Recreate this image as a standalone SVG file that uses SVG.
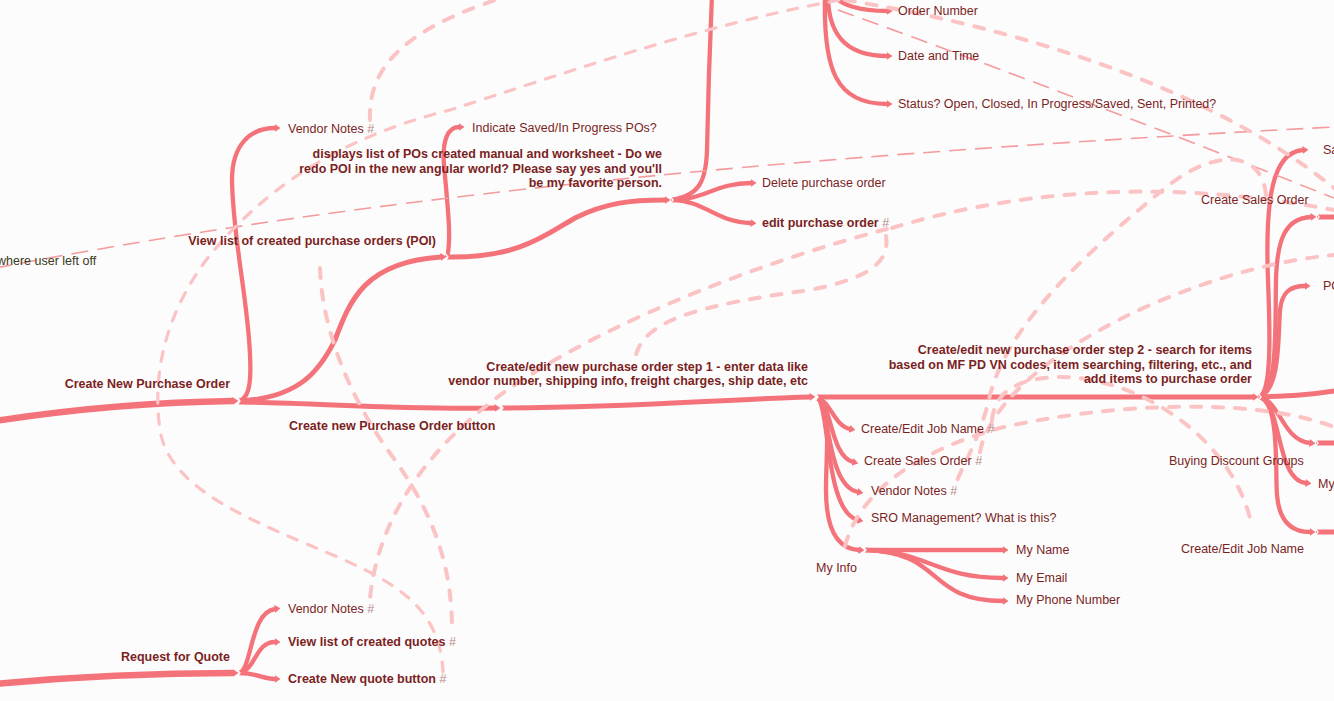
<svg xmlns="http://www.w3.org/2000/svg" width="1334" height="701" viewBox="0 0 1334 701">
<defs>
<style>
.br{fill:none;stroke:#f4737a;stroke-linecap:butt}
.w6{stroke-width:6.5}.w5{stroke-width:5}.w4{stroke-width:4.3}
.t{font-family:"Liberation Sans",Arial,sans-serif;font-size:12.5px;fill:#7b1f1f}
.b{font-weight:bold}
.h{fill:#b58b8b;font-weight:normal}
.dp{fill:none;stroke:#fbc3c4;stroke-width:4;stroke-dasharray:10 12;stroke-linecap:round}
.dm{fill:none;stroke:#fbc3c4;stroke-width:3.2;stroke-dasharray:10 11;stroke-linecap:round}
.dt{fill:none;stroke:#f59a9d;stroke-width:1.6;stroke-dasharray:17 9}
.nt{fill:none;stroke:#fcfcfc;stroke-width:1.3}
</style>
<marker id="ar" viewBox="0 0 6 8" refX="0.5" refY="4" markerWidth="6" markerHeight="8" markerUnits="userSpaceOnUse" orient="auto"><path d="M0,0 L6,4 L0,8 z" fill="#f4737a"/></marker>
</defs>
<rect width="1334" height="701" fill="#fcfcfc"/>
<g id="connectors">
<!-- solid branches -->
<path class="br w6" d="M-5,421 C 80,408 160,402 233,401" marker-end="url(#ar)"/>
<path class="br w4" d="M239,401 C 251,398 251,375 250,355 C 248,300 233,240 232,180 C 232,145 250,128 275,128" marker-end="url(#ar)"/>
<path class="br w5" d="M239,401 C 300,398 320,370 335,340 C 350,300 365,262 441,257" marker-end="url(#ar)"/>
<path class="br w5" d="M239,402 C 320,403 400,410 495,408" marker-end="url(#ar)"/>
<path class="br w5" d="M502,408 C 650,407 700,400 810,397" marker-end="url(#ar)"/>
<path class="br w5" d="M817,397 L1253,397" marker-end="url(#ar)"/>
<path class="br w4" d="M447,257 C 452,240 447,200 444,165 C 442,140 448,127 459,127" marker-end="url(#ar)"/>
<path class="br w5" d="M447,257 C 520,258 545,235 575,218 C 605,203 630,200 665,200" marker-end="url(#ar)"/>
<path class="br w4" d="M671,200 C 700,196 706,180 707,150 C 708,100 710,40 712,-5"/>
<path class="br w4" d="M671,200 C 705,200 715,183 751,183" marker-end="url(#ar)"/>
<path class="br w4" d="M671,200 C 705,200 715,222 751,223" marker-end="url(#ar)"/>
<path class="br w4" d="M834,-5 C 840,5 860,11 887,11" marker-end="url(#ar)"/>
<path class="br w4" d="M828,-5 C 828,30 842,56 887,56" marker-end="url(#ar)"/>
<path class="br w4" d="M825,-5 C 823,70 836,104 887,104" marker-end="url(#ar)"/>
<path class="br w4" d="M817,398 C 830,400 834,426 850,429" marker-end="url(#ar)"/>
<path class="br w4" d="M817,398 C 832,402 830,456 853,462" marker-end="url(#ar)"/>
<path class="br w4" d="M817,398 C 830,402 826,486 858,492" marker-end="url(#ar)"/>
<path class="br w4" d="M817,398 C 830,402 824,512 858,520" marker-end="url(#ar)"/>
<path class="br w4" d="M817,398 C 832,402 826,450 826,490 C 826,530 838,549 859,550" marker-end="url(#ar)"/>
<path class="br w4" d="M865,550 L1003,550" marker-end="url(#ar)"/>
<path class="br w4" d="M865,550 C 930,552 935,578 1003,578" marker-end="url(#ar)"/>
<path class="br w4" d="M865,550 C 945,552 925,601 1003,601" marker-end="url(#ar)"/>
<path class="br w4" d="M1259,397 C 1272,392 1270,330 1268,280 C 1265,200 1272,152 1303,150" marker-end="url(#ar)"/>
<path class="br w4" d="M1259,397 C 1278,390 1275,330 1276,280 C 1277,240 1285,218 1311,217" marker-end="url(#ar)"/>
<path class="br w5" d="M1317,217 L1340,217"/>
<path class="br w4" d="M1259,397 C 1280,390 1278,340 1280,310 C 1282,292 1290,286 1305,286" marker-end="url(#ar)"/>
<path class="br w5" d="M1259,397 C 1290,396 1310,395 1340,390"/>
<path class="br w4" d="M1259,397 C 1280,400 1282,440 1310,443" marker-end="url(#ar)"/>
<path class="br w5" d="M1316,443 L1340,443"/>
<path class="br w4" d="M1259,397 C 1282,400 1275,480 1306,483" marker-end="url(#ar)"/>
<path class="br w4" d="M1259,397 C 1280,402 1275,470 1277,495 C 1279,520 1290,532 1310,532" marker-end="url(#ar)"/>
<path class="br w5" d="M1316,532 L1340,532"/>
<path class="br w6" d="M-5,684 C 80,676 160,673 233,673" marker-end="url(#ar)"/>
<path class="br w4" d="M239,673 C 252,670 250,612 275,609" marker-end="url(#ar)"/>
<path class="br w4" d="M239,673 C 256,670 255,642 275,642" marker-end="url(#ar)"/>
<path class="br w4" d="M239,673 C 258,673 262,679 275,679" marker-end="url(#ar)"/>
<!-- node notches -->
<g class="nt">
<polyline points="237,397 240,401 237,405"/>
<polyline points="500,404 503,408 500,412"/>
<polyline points="815,393 818,397 815,401"/>
<polyline points="1258,393 1261,397 1258,401"/>
<polyline points="445,253 448,257 445,261"/>
<polyline points="670,196 673,200 670,204"/>
<polyline points="863,546 866,550 863,554"/>
<polyline points="237,669 240,673 237,677"/>
<polyline points="1316,213 1319,217 1316,221"/>
<polyline points="1315,439 1318,443 1315,447"/>
<polyline points="1315,528 1318,532 1315,536"/>
</g>
<!-- cross connections -->
<path class="dt" d="M-5,268 C 250,220 600,165 1334,127"/>
<path class="dt" d="M838,10 C 950,50 1150,125 1334,198"/>
<path class="dp" d="M370,120 C 368,70 400,30 505,-3"/>
<path class="dm" d="M443,672 C 440,610 400,585 340,558 C 250,520 170,490 160,430 C 150,360 175,300 210,255 C 260,195 330,140 450,110 C 560,75 700,25 840,0"/>
<path class="dp" d="M845,0 C 1000,25 1200,80 1334,188"/>
<path class="dp" d="M892,228 C 1000,195 1150,175 1334,210"/>
<path class="dp" d="M886,236 C 890,262 870,278 810,290 C 700,305 640,320 635,360"/>
<path class="dp" d="M887,229 C 760,262 620,318 530,375 C 450,425 380,500 370,598"/>
<path class="dp" d="M320,268 C 322,330 350,400 395,460 C 430,510 452,560 452,630"/>
<path class="dp" d="M1266,195 C 1262,150 1215,148 1165,188 C 1090,250 1010,320 990,395 C 980,440 960,470 955,486"/>
<path class="dp" d="M980,452 C 990,400 1060,345 1150,305 C 1220,275 1280,260 1334,255"/>
<path class="dp" d="M845,546 C 860,490 920,450 1000,428 C 1100,405 1250,395 1334,427"/>
<path class="dp" d="M992,420 C 995,390 1020,378 1060,377 C 1140,377 1235,440 1252,527"/>
</g>
<g id="n-where-user-left-off"><text class="t" x="-3" y="264.5" style="fill:#3a3a22">where user left off</text></g>
<g id="n-create-new-po"><text class="t b" x="230" y="388" text-anchor="end">Create New Purchase Order</text></g>
<g id="n-vendor-notes-1"><text class="t" x="288" y="132.5">Vendor Notes <tspan class="h">#</tspan></text></g>
<g id="n-view-poi"><text class="t b" x="436" y="245" text-anchor="end">View list of created purchase orders (POI)</text></g>
<g id="n-indicate"><text class="t" x="472" y="131.5">Indicate Saved/In Progress POs?</text></g>
<g id="n-displays"><text class="t b" text-anchor="end"><tspan x="662" y="158">displays list of POs created manual and worksheet - Do we</tspan><tspan x="662" y="172.5">redo POI in the new angular world? Please say yes and you'll</tspan><tspan x="662" y="187">be my favorite person.</tspan></text></g>
<g id="n-delete-po"><text class="t" x="762" y="186.5">Delete purchase order</text></g>
<g id="n-edit-po"><text class="t b" x="762" y="226.5">edit purchase order <tspan class="h">#</tspan></text></g>
<g id="n-order-number"><text class="t" x="898" y="15">Order Number</text></g>
<g id="n-date-time"><text class="t" x="898" y="60">Date and Time</text></g>
<g id="n-status"><text class="t" x="898" y="108">Status? Open, Closed, In Progress/Saved, Sent, Printed?</text></g>
<g id="n-create-po-button"><text class="t b" x="289" y="430">Create new Purchase Order button</text></g>
<g id="n-step1"><text class="t b" text-anchor="end"><tspan x="808" y="370.5">Create/edit new purchase order step 1 - enter data like</tspan><tspan x="808" y="385">vendor number, shipping info, freight charges, ship date, etc</tspan></text></g>
<g id="n-job-name-1"><text class="t" x="861" y="433">Create/Edit Job Name <tspan class="h">#</tspan></text></g>
<g id="n-sales-order-1"><text class="t" x="864" y="465">Create Sales Order <tspan class="h">#</tspan></text></g>
<g id="n-vendor-notes-2"><text class="t" x="871" y="494.5">Vendor Notes <tspan class="h">#</tspan></text></g>
<g id="n-sro"><text class="t" x="871" y="522">SRO Management? What is this?</text></g>
<g id="n-my-info"><text class="t" x="816" y="572">My Info</text></g>
<g id="n-my-name"><text class="t" x="1016" y="554">My Name</text></g>
<g id="n-my-email"><text class="t" x="1016" y="582">My Email</text></g>
<g id="n-my-phone"><text class="t" x="1016" y="604">My Phone Number</text></g>
<g id="n-step2"><text class="t b" text-anchor="end"><tspan x="1252" y="354">Create/edit new purchase order step 2 - search for items</tspan><tspan x="1252" y="368.5">based on MF PD VN codes, item searching, filtering, etc., and</tspan><tspan x="1252" y="383">add items to purchase order</tspan></text></g>
<g id="n-sa"><text class="t" x="1323" y="153.5">Sa</text></g>
<g id="n-sales-order-2"><text class="t" x="1201" y="203.5">Create Sales Order</text></g>
<g id="n-po"><text class="t" x="1323" y="289.5">PO</text></g>
<g id="n-buying-discount"><text class="t" x="1169" y="465">Buying Discount Groups</text></g>
<g id="n-my"><text class="t" x="1318" y="487.5">My</text></g>
<g id="n-job-name-2"><text class="t" x="1181" y="553">Create/Edit Job Name</text></g>
<g id="n-rfq"><text class="t b" x="230" y="661" text-anchor="end">Request for Quote</text></g>
<g id="n-vendor-notes-3"><text class="t" x="288" y="613">Vendor Notes <tspan class="h">#</tspan></text></g>
<g id="n-view-quotes"><text class="t b" x="288" y="646">View list of created quotes <tspan class="h">#</tspan></text></g>
<g id="n-create-quote"><text class="t b" x="288" y="683">Create New quote button <tspan class="h">#</tspan></text></g>
</svg>
